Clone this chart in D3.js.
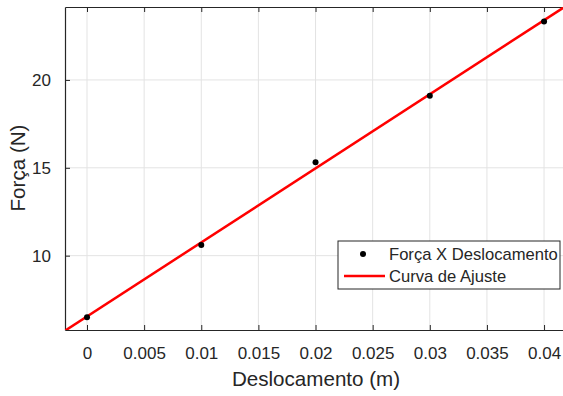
<!DOCTYPE html>
<html>
<head>
<meta charset="utf-8">
<script src="https://cdn.jsdelivr.net/npm/d3@7"></script>
<style>
  body { margin: 0; background: #fff; }
  text { font-family: "Liberation Sans", Arial, sans-serif; fill: #262626; }
</style>
</head>
<body>
<div id="chart"></div>
<script>
// measured points (Deslocamento m, Força N)
const deslocamento = [0, 0.01, 0.02, 0.03, 0.04];
const forca = [6.49, 10.61, 15.32, 19.1, 23.32];
// linear fit: F = a*x + b
const fitCoef = [421.5, 6.54];
const xTicks = [0, 0.005, 0.01, 0.015, 0.02, 0.025, 0.03, 0.035, 0.04];
const yTicks = [10, 15, 20];
const legendLabels = ['Força X Deslocamento', 'Curva de Ajuste'];

const W = 563, H = 396;
const plot = { left: 65, top: 7, right: 566, bottom: 330 };

const svg = d3.select('#chart').append('svg')
    .attr('width', W)
    .attr('height', H);

const x = d3.scaleLinear().domain([-0.001926, 0.04192]).range([plot.left, plot.right]);
const y = d3.scaleLinear().domain([5.77, 24.15]).range([plot.bottom, plot.top]);

const axisColor = '#262626';
const gridColor = '#e3e3e3';

// grid
svg.append('g').selectAll('line')
    .data(xTicks)
    .enter().append('line')
    .attr('x1', d => x(d)).attr('x2', d => x(d))
    .attr('y1', plot.top).attr('y2', plot.bottom)
    .attr('stroke', gridColor).attr('stroke-width', 1);

svg.append('g').selectAll('line')
    .data(yTicks)
    .enter().append('line')
    .attr('x1', plot.left).attr('x2', plot.right)
    .attr('y1', d => y(d)).attr('y2', d => y(d))
    .attr('stroke', gridColor).attr('stroke-width', 1);

// axes (ticks point inward, like matlab)
const xAxis = d3.axisBottom(x).tickValues(xTicks)
    .tickFormat(d => String(+d.toFixed(3)))
    .tickSizeInner(-5).tickSizeOuter(0).tickPadding(17);
const gx = svg.append('g')
    .attr('transform', 'translate(0,' + plot.bottom + ')')
    .call(xAxis);

const xTop = d3.axisTop(x).tickValues(xTicks).tickFormat('')
    .tickSizeInner(-5).tickSizeOuter(0);
const gxt = svg.append('g')
    .attr('transform', 'translate(0,' + plot.top + ')')
    .call(xTop);

const yAxis = d3.axisLeft(y).tickValues(yTicks)
    .tickSizeInner(-5).tickSizeOuter(0).tickPadding(14);
const gy = svg.append('g')
    .attr('transform', 'translate(' + plot.left + ',0)')
    .call(yAxis);

[gx, gxt, gy].forEach(g => {
    g.select('.domain').attr('stroke', axisColor).attr('stroke-width', 1.2);
    g.selectAll('.tick line').attr('stroke', axisColor);
    g.selectAll('.tick text')
        .style('font-family', '"Liberation Sans", Arial, sans-serif')
        .style('font-size', '17px')
        .attr('fill', axisColor);
});

// fit line
const xd = x.domain();
const fitLine = d3.line()
    .x(d => x(d))
    .y(d => y(fitCoef[0] * d + fitCoef[1]));

svg.append('defs').append('clipPath').attr('id', 'clip')
    .append('rect')
    .attr('x', plot.left).attr('y', plot.top)
    .attr('width', plot.right - plot.left).attr('height', plot.bottom - plot.top);

svg.append('path')
    .datum(xd)
    .attr('d', fitLine)
    .attr('clip-path', 'url(#clip)')
    .attr('fill', 'none')
    .attr('stroke', '#ff0000')
    .attr('stroke-width', 2.5);

// data points
svg.append('g').selectAll('circle')
    .data(deslocamento)
    .enter().append('circle')
    .attr('cx', d => x(d))
    .attr('cy', (d, i) => y(forca[i]))
    .attr('r', 3)
    .attr('fill', '#000');

// axis labels
svg.append('text')
    .attr('x', 316)
    .attr('y', 386)
    .attr('text-anchor', 'middle')
    .style('font-size', '20.6px')
    .text('Deslocamento (m)');

svg.append('text')
    .attr('transform', 'translate(25,168) rotate(-90)')
    .attr('text-anchor', 'middle')
    .style('font-size', '20.6px')
    .text('Força (N)');

// legend
const lg = svg.append('g');
lg.append('rect')
    .attr('x', 338).attr('y', 241)
    .attr('width', 222).attr('height', 48)
    .attr('fill', '#fff')
    .attr('stroke', axisColor).attr('stroke-width', 1);

lg.append('circle')
    .attr('cx', 363).attr('cy', 254)
    .attr('r', 3).attr('fill', '#000');
lg.append('line')
    .attr('x1', 344).attr('x2', 385)
    .attr('y1', 276).attr('y2', 276)
    .attr('stroke', '#ff0000').attr('stroke-width', 2.5);

lg.selectAll('text.lab')
    .data(legendLabels)
    .enter().append('text')
    .attr('class', 'lab')
    .attr('x', 389)
    .attr('y', (d, i) => 260 + i * 22)
    .style('font-size', '16.6px')
    .text(d => d);
</script>
</body>
</html>
